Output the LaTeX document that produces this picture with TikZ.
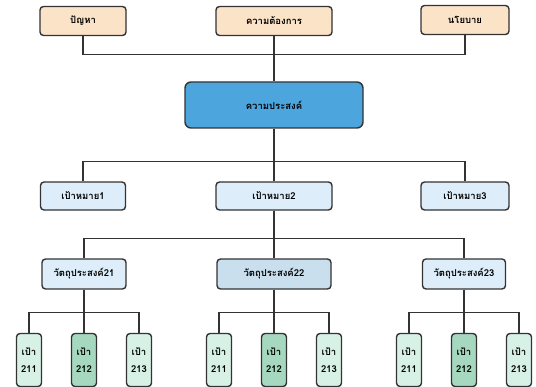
\documentclass[tikz,border=0pt]{standalone}
\usepackage{fontspec}
\newfontfamily\thaifont[Script=Thai]{Loma}
\usetikzlibrary{trees}

\definecolor{peach}{HTML}{FBE3C8}
\definecolor{skyblue}{HTML}{4CA5DD}
\definecolor{paleblue}{HTML}{DDEEFA}
\definecolor{midblue}{HTML}{C9DFEE}
\definecolor{palegreen}{HTML}{D8F1E7}
\definecolor{deepgreen}{HTML}{A6D8C0}
\definecolor{linegray}{HTML}{333333}

\tikzset{
  box/.style={draw=linegray,line width=1.4pt,rounded corners=3.5pt,inner sep=1pt,
    font=\thaifont\bfseries\fontsize{9.5}{11}\selectfont},
  needbox/.style={box,fill=peach,minimum height=29pt},
  purposebox/.style={box,fill=skyblue,minimum width=178pt,minimum height=46pt,rounded corners=6pt},
  goalbox/.style={box,fill=paleblue,minimum height=28pt},
  objbox/.style={box,fill=paleblue,minimum height=30pt},
  leafbox/.style={box,fill=palegreen,minimum width=25pt,minimum height=53pt,align=center},
  link/.style={draw=linegray,line width=1.4pt}
}

\begin{document}
\begin{tikzpicture}[
  x=1pt,y=1pt,
  grow=down,
  level 1/.style={level distance=91pt,sibling distance=191pt},
  level 2/.style={level distance=78pt,sibling distance=190pt},
  level 3/.style={level distance=86pt,sibling distance=55pt},
  edge from parent/.style={link},
  edge from parent path={
    (\tikzparentnode.south) |- ([yshift=20pt]\tikzchildnode.north) -- (\tikzchildnode.north)
  }
]
  \fill[white] (0,0) rectangle (536,-387);
  \useasboundingbox (0,0) rectangle (536,-387);

  % top row
  \node[needbox,minimum width=86pt] (problem) at (83,-21) {ปัญหา};
  \node[needbox,minimum width=116pt] (need) at (274,-21) {ความต้องการ};
  \node[needbox,minimum width=88pt] (policy) at (465,-20) {นโยบาย};

  % main tree
  \node[purposebox] (purpose) at (274,-105) {ความประสงค์}
    child {node[goalbox,minimum width=85pt] (goal1) {เป้าหมาย1}}
    child {node[goalbox,minimum width=116pt] (goal2) {เป้าหมาย2}
      child {node[objbox,minimum width=84pt] (obj21) {วัตถุประสงค์21}
        child {node[leafbox] (aim21a) {เป้า\\[6pt]211}}
        child {node[leafbox,fill=deepgreen] (aim21b) {เป้า\\[6pt]212}}
        child {node[leafbox] (aim21c) {เป้า\\[6pt]213}}}
      child {node[objbox,fill=midblue,minimum width=114pt] (obj22) {วัตถุประสงค์22}
        child {node[leafbox] (aim22a) {เป้า\\[6pt]211}}
        child {node[leafbox,fill=deepgreen] (aim22b) {เป้า\\[6pt]212}}
        child {node[leafbox] (aim22c) {เป้า\\[6pt]213}}}
      child {node[objbox,minimum width=83pt] (obj23) {วัตถุประสงค์23}
        child {node[leafbox] (aim23a) {เป้า\\[6pt]211}}
        child {node[leafbox,fill=deepgreen] (aim23b) {เป้า\\[6pt]212}}
        child {node[leafbox] (aim23c) {เป้า\\[6pt]213}}}}
    child {node[goalbox,minimum width=88pt] (goal3) {เป้าหมาย3}};

  % joins into the purpose box
  \coordinate (topbar) at ([yshift=27pt]purpose.north);
  \draw[link] (problem.south) |- (topbar) -| (policy.south);
  \draw[link] (need.south) -- (purpose.north);
\end{tikzpicture}
\end{document}
